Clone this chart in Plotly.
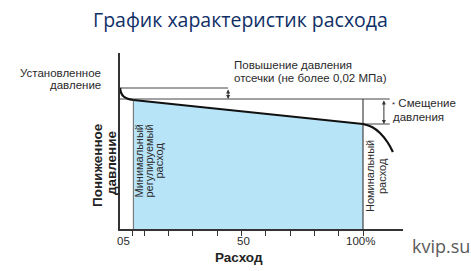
import plotly.graph_objects as go

# ---- data (flow in %, pressure in arbitrary units) ----
initial_flow = [0, 0.5, 1.5, 3.2, 5.5]
initial_pressure = [141, 136, 132.5, 130.2, 129]
regulated_flow = [5.5, 100]
regulated_pressure = [129, 105]
end_flow = [100, 103.7, 107, 110.3, 112.3]
end_pressure = [105, 102, 96, 86, 77]

set_pressure = 141          # установленное давление
cutoff_level = 130          # уровень после повышения давления отсечки
cutoff_arrow_flow = 44.5
offset_arrow_flow = 108.6
line_end_flow = 111
min_flow = 5.5
nominal_flow = 100

tick_values = [5, 10, 20, 30, 40, 50, 60, 70, 80, 90, 100]
tick_labels = ["05", "50", "100%"]

W, H = 471, 271
L, R, T, B = 120, 68, 53, 42
PW, PH = W - L - R, H - T - B


def P(xpx, ypx):
    return (xpx - L) / PW, (H - B - ypx) / PH


AX = "#333333"
TXT = "#2a2a2a"
FONT = "Liberation Sans, Arial, sans-serif"

fig = go.Figure()

# filled regulated area
fig.add_trace(go.Scatter(x=regulated_flow, y=regulated_pressure, mode="lines",
                         line=dict(width=0), fill="tozeroy",
                         fillcolor="rgb(184,228,248)", hoverinfo="skip"))
# reference lines
fig.add_trace(go.Scatter(x=[0, cutoff_arrow_flow], y=[set_pressure, set_pressure],
                         mode="lines", line=dict(color="#444", width=1)))
fig.add_trace(go.Scatter(x=[0, line_end_flow], y=[cutoff_level, cutoff_level],
                         mode="lines", line=dict(color="#444", width=1)))
fig.add_trace(go.Scatter(x=[nominal_flow, line_end_flow],
                         y=[regulated_pressure[-1], regulated_pressure[-1]],
                         mode="lines", line=dict(color="#444", width=1)))
fig.add_trace(go.Scatter(x=[min_flow, min_flow], y=[0, regulated_pressure[0]],
                         mode="lines", line=dict(color="#666", width=1)))
fig.add_trace(go.Scatter(x=[nominal_flow, nominal_flow], y=[0, cutoff_level],
                         mode="lines", line=dict(color="#444", width=1.2)))
# characteristic curve
fig.add_trace(go.Scatter(x=initial_flow, y=initial_pressure, mode="lines",
                         line=dict(color="#111", width=2.2, shape="spline")))
fig.add_trace(go.Scatter(x=regulated_flow, y=regulated_pressure, mode="lines",
                         line=dict(color="#111", width=2.2)))
fig.add_trace(go.Scatter(x=end_flow, y=end_pressure, mode="lines",
                         line=dict(color="#111", width=2.2, shape="spline")))

ann = []
# double arrows
for xf, y0, y1 in [(cutoff_arrow_flow, set_pressure, cutoff_level),
                   (offset_arrow_flow, cutoff_level, regulated_pressure[-1])]:
    ann.append(dict(x=xf, y=y1, ax=xf, ay=y0, xref="x", yref="y", axref="x", ayref="y",
                    text="", showarrow=True, arrowside="end+start", arrowhead=2,
                    arrowsize=0.8, arrowwidth=1, arrowcolor="#333",
                    standoff=0, startstandoff=0))


def txt(text, xpx, ypx, size=11.5, xanchor="center", bold=False, angle=0,
        color=TXT, family=FONT):
    px, py = P(xpx, ypx)
    if bold:
        text = "<b>" + text + "</b>"
    ann.append(dict(x=px, y=py, xref="paper", yref="paper", text=text, showarrow=False,
                    xanchor=xanchor, yanchor="middle", textangle=angle,
                    font=dict(size=size, color=color, family=family)))


txt("График характеристик расхода", 240, 19, size=19.5, color="#0f2f66",
    family="Open Sans, sans-serif")
txt("Установленное", 103, 73, xanchor="right")
txt("давление", 103, 84.5, xanchor="right")
txt("Повышение давления", 232, 65, xanchor="left")
txt("отсечки (не более 0,02 МПа)", 232, 78, xanchor="left")
txt("<span style='font-size:8px'>*</span> Смещение", 390, 103, xanchor="left")
txt("давления", 391, 117, xanchor="left")
txt("Пониженное", 97, 165, size=13.5, bold=True, angle=-90, color="#222")
txt("давление", 111, 163, size=13.5, bold=True, angle=-90, color="#222")
txt("Минимальный", 138.5, 161, size=11, angle=-90)
txt("регулируемый", 148.5, 161, size=11, angle=-90)
txt("расход", 158.5, 161, size=11, angle=-90)
txt("Номинальный", 370, 176, size=11, angle=-90)
txt("расход", 382, 176, size=11, angle=-90)
txt(tick_labels[0], 123, 241)
txt(tick_labels[1], 243, 241)
txt(tick_labels[2], 360, 241)
txt("Расход", 239, 257, size=13.5, bold=True, color="#222")
txt("kvip.su", 441, 246, size=18, color="#5a5a5a", family="Open Sans, sans-serif")

fig.update_layout(
    width=W, height=H, margin=dict(l=L, r=R, t=T, b=B),
    paper_bgcolor="white", plot_bgcolor="white", showlegend=False,
    annotations=ann,
    xaxis=dict(range=[0, (W - R - L) / 2.43], showgrid=False, zeroline=False,
               showline=True, linecolor=AX, linewidth=1.5, ticks="outside",
               tickvals=tick_values, ticklen=5, tickcolor=AX, tickwidth=1.2,
               showticklabels=False, fixedrange=True),
    yaxis=dict(range=[0, PH], showgrid=False, zeroline=False, showline=True,
               linecolor=AX, linewidth=1.5, ticks="", showticklabels=False,
               fixedrange=True),
)

fig.write_html("out.html")
